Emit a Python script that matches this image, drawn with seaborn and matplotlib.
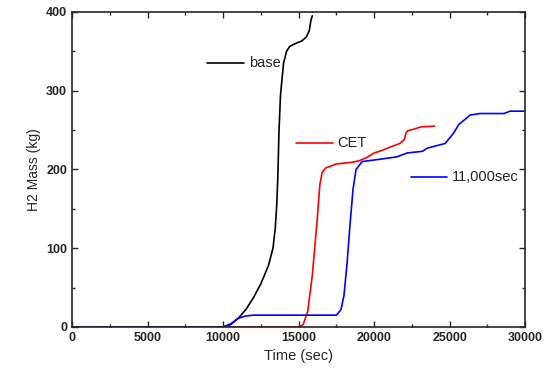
import numpy as np
import pandas as pd
import matplotlib
matplotlib.use("Agg")
import matplotlib.pyplot as plt
import seaborn as sns
from matplotlib.ticker import MultipleLocator

# values
base_t = [0, 10000, 10500, 11000, 11500, 12000, 12500, 13000, 13300, 13450, 13550, 13620,
          13700, 13800, 14000, 14200, 14400, 14800, 15200, 15500, 15700, 15800, 15900]
base_m = [0, 0, 3, 11, 22, 37, 55, 78, 100, 125, 155, 190, 250, 295, 335, 350, 356, 360,
          363, 368, 376, 388, 395]

cet_t = [0, 15000, 15300, 15600, 15900, 16200, 16400, 16550, 16800, 17500, 18500, 19000,
         19500, 20000, 20500, 21000, 21700, 22000, 22100, 22200, 22600, 23100, 24000]
cet_m = [0, 0, 3, 20, 65, 130, 180, 196, 202, 207, 209, 211, 215, 221, 224, 228, 233,
         238, 246, 249, 251, 254, 255]

s11_t = [0, 10000, 10500, 11000, 11500, 12000, 17500, 17800, 18000, 18200, 18400, 18600,
         18800, 19200, 20400, 21500, 22200, 23200, 23500, 24700, 25250, 25600, 26350,
         27000, 28600, 29000, 30000]
s11_m = [0, 0, 4, 11, 14, 15, 15, 22, 40, 80, 130, 175, 200, 210, 213, 216, 221, 223,
         227, 233, 246, 257, 269, 271, 271, 274, 274]

names = ["base", "CET", "11,000sec"]
colors = ["black", "red", "blue"]

df = pd.concat([
    pd.DataFrame({"t": base_t, "m": base_m, "case": "base"}),
    pd.DataFrame({"t": cet_t, "m": cet_m, "case": "CET"}),
    pd.DataFrame({"t": s11_t, "m": s11_m, "case": "11,000sec"}),
])

sns.set_style("ticks")
plt.rcParams["font.family"] = ["Liberation Sans", "DejaVu Sans"]

fig = plt.figure(figsize=(5.46, 3.72), dpi=100)
ax = fig.add_axes([0.132, 0.121, 0.830, 0.847])

sns.lineplot(data=df, x="t", y="m", hue="case", hue_order=names,
             palette=colors, linewidth=1.2, sort=False, estimator=None,
             legend=False, ax=ax)

# inline legend: short line + label
keys = [(8940, 11390, 335), (14830, 17280, 234), (22450, 24830, 190)]
for (x0, x1, y), n, c in zip(keys, names, colors):
    ax.plot([x0, x1], [y, y], color=c, linewidth=1.2)
    ax.text(x1 + 300, y, n, va="center", ha="left", fontsize=10.5)

ax.set_xlim(0, 30000)
ax.set_ylim(0, 400)
ax.xaxis.set_major_locator(MultipleLocator(5000))
ax.xaxis.set_minor_locator(MultipleLocator(2500))
ax.yaxis.set_major_locator(MultipleLocator(100))
ax.yaxis.set_minor_locator(MultipleLocator(50))
ax.tick_params(which="both", direction="in", top=True, right=True, width=1)
ax.tick_params(which="major", length=4, labelsize=9)
ax.tick_params(which="minor", length=2.5)
for lab in ax.get_xticklabels() + ax.get_yticklabels():
    lab.set_fontweight("bold")
for sp in ax.spines.values():
    sp.set_linewidth(1.2)
ax.set_xlabel("Time (sec)", fontsize=10.5)
ax.set_ylabel("H2 Mass (kg)", fontsize=10)

fig.savefig("out.png", dpi=100)
